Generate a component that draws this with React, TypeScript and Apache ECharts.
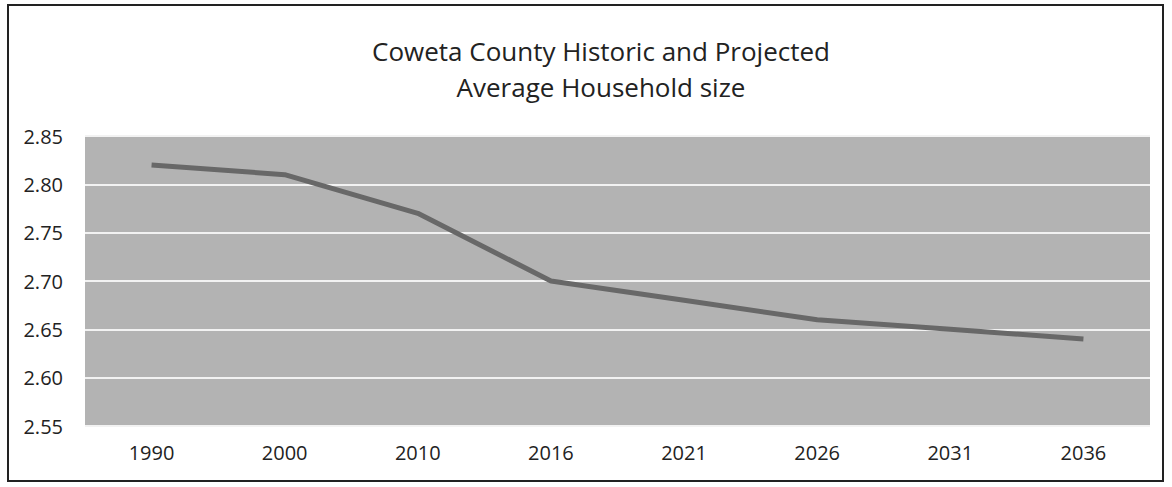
import React, { useEffect, useRef } from "react";
import * as echarts from "echarts";

const years = ["1990", "2000", "2010", "2016", "2021", "2026", "2031", "2036"];
const householdSize = [2.82, 2.81, 2.77, 2.7, 2.68, 2.66, 2.65, 2.64];
const titleLines = ["Coweta County Historic and Projected", "Average Household size"];

const FONT = "'Open Sans', 'Noto Sans', sans-serif";

export default function App() {
  const ref = useRef<HTMLDivElement>(null);
  useEffect(() => {
    document.body.style.margin = "0";
    const chart = echarts.init(ref.current!, null, { renderer: "svg" });
    chart.setOption({
      animation: false,
      backgroundColor: "#ffffff",
      title: {
        text: titleLines.join("\n"),
        left: 596,
        top: 28,
        textAlign: "center",
        textStyle: {
          fontFamily: FONT,
          fontSize: 26,
          fontWeight: "normal",
          color: "#222222",
          lineHeight: 36,
        },
      },
      graphic: [
        {
          type: "rect",
          shape: { x: 8, y: 5, width: 1155, height: 476 },
          style: { fill: "none", stroke: "#222222", lineWidth: 2 },
          z: 100,
        },
      ],
      grid: {
        left: 85,
        right: 22,
        top: 136,
        bottom: 61,
        show: true,
        backgroundColor: "#b3b3b3",
        borderWidth: 0,
      },
      xAxis: {
        type: "category",
        data: years,
        boundaryGap: true,
        axisLine: { show: false },
        axisTick: { show: false },
        axisLabel: {
          fontFamily: FONT,
          fontSize: 20,
          color: "#222222",
          margin: 16,
        },
      },
      yAxis: {
        type: "value",
        min: 2.55,
        max: 2.85,
        interval: 0.05,
        axisLine: { show: false },
        axisTick: { show: false },
        splitLine: { lineStyle: { color: "#f2f2f2", width: 2 } },
        axisLabel: {
          fontFamily: FONT,
          fontSize: 20,
          color: "#222222",
          margin: 22,
          formatter: (v: number) => v.toFixed(2),
        },
      },
      series: [
        {
          type: "line",
          data: householdSize,
          symbol: "none",
          lineStyle: { color: "#686868", width: 5 },
        },
      ],
    });
    return () => chart.dispose();
  }, []);
  return (
    <div
      ref={ref}
      style={{ position: "fixed", left: 0, top: 0, width: 1172, height: 487 }}
    />
  );
}
